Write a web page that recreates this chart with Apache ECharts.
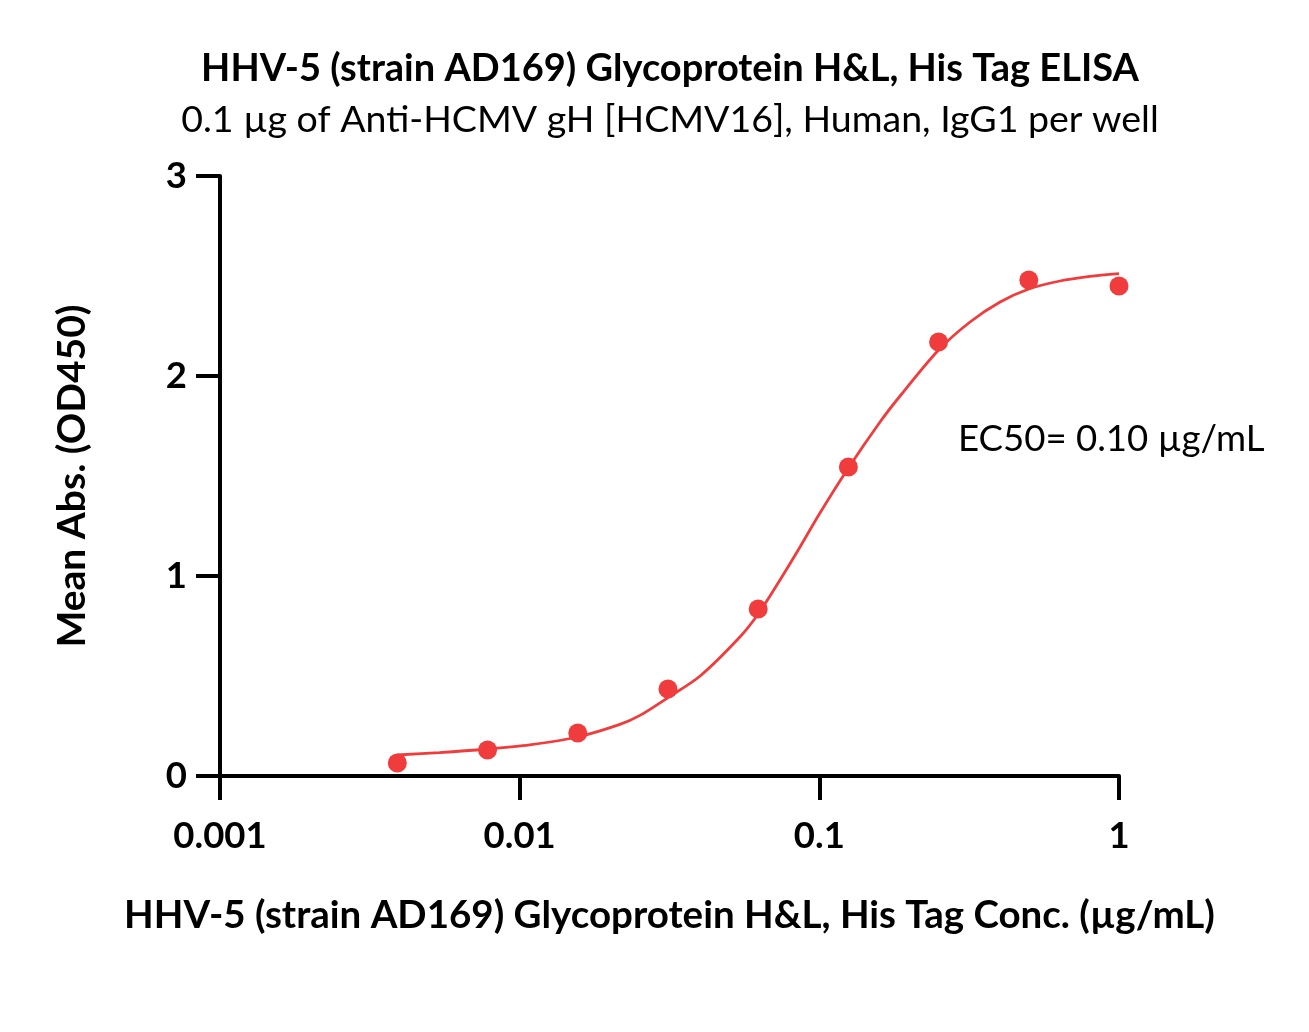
<!DOCTYPE html>
<html>
<head>
<meta charset="utf-8">
<script src="https://cdn.jsdelivr.net/npm/echarts@6/dist/echarts.min.js"></script>
<style>html,body{margin:0;padding:0;background:#fff}#c{width:1309px;height:1032px}</style>
</head>
<body>
<div id="c"></div>
<script>
// Measured points (concentration µg/mL, mean absorbance OD450)
const conc = [0.00390625, 0.0078125, 0.015625, 0.03125, 0.0625, 0.125, 0.25, 0.5, 1];
const absorbance = [0.065, 0.13, 0.215, 0.435, 0.835, 1.545, 2.17, 2.48, 2.45];
// Fitted curve
const curveX = [0.0039, 0.0054, 0.0078, 0.0108, 0.0156, 0.0216, 0.0252, 0.03125, 0.04, 0.0543, 0.0625, 0.0739, 0.0862, 0.1, 0.125, 0.1594, 0.1859, 0.25, 0.3183, 0.401, 0.5, 0.635, 0.8, 1];
const curveY = [0.105, 0.117, 0.135, 0.156, 0.195, 0.258, 0.303, 0.392, 0.5, 0.695, 0.81, 0.98, 1.145, 1.31, 1.54, 1.77, 1.9, 2.13, 2.27, 2.37, 2.435, 2.475, 2.498, 2.512];
const xTicks = ['0.001', '0.01', '0.1', '1'];
const yTicks = ['0', '1', '2', '3'];
const titleText = 'HHV-5 (strain AD169) Glycoprotein H&L, His Tag ELISA';
const subText = '0.1 \u00b5g of Anti-HCMV gH [HCMV16], Human, IgG1 per well';
const xName = 'HHV-5 (strain AD169) Glycoprotein H&L, His Tag Conc. (\u00b5g/mL)';
const yName = 'Mean Abs. (OD450)';
const ec50Text = 'EC50= 0.10 \u00b5g/mL';

const FONT = 'Lato';
const RED = '#F03C3C';
const chart = echarts.init(document.getElementById('c'), null, {renderer: 'canvas'});
chart.setOption({
  animation: false,
  backgroundColor: '#ffffff',
  grid: {left: 220, top: 176, right: 190, bottom: 256, containLabel: false},
  xAxis: {
    type: 'log', logBase: 10, min: 0.001, max: 1,
    name: xName, nameLocation: 'middle', nameGap: 120,
    nameTextStyle: {fontFamily: FONT, fontWeight: 'bold', fontSize: 38.5, color: '#000'},
    axisLine: {show: true, onZero: false, lineStyle: {color: '#000', width: 4}},
    axisTick: {show: true, inside: false, length: 24, lineStyle: {color: '#000', width: 4}},
    minorTick: {show: false},
    splitLine: {show: false},
    axisLabel: {margin: 42, fontFamily: FONT, fontWeight: 'bold', fontSize: 36.5, color: '#000',
      formatter: function (v) { const i = Math.round(Math.log10(v)) + 3; return xTicks[i] !== undefined ? xTicks[i] : ''; }}
  },
  yAxis: {
    type: 'value', min: 0, max: 3, interval: 1,
    name: yName, nameLocation: 'middle', nameGap: 128, nameRotate: 90,
    nameTextStyle: {fontFamily: FONT, fontWeight: 'bold', fontSize: 39, color: '#000'},
    axisLine: {show: true, lineStyle: {color: '#000', width: 4}},
    axisTick: {show: true, inside: false, length: 24, lineStyle: {color: '#000', width: 4}},
    splitLine: {show: false},
    axisLabel: {margin: 33, fontFamily: FONT, fontWeight: 'bold', fontSize: 36.5, color: '#000',
      formatter: function (v) { const i = Math.round(v); return yTicks[i] !== undefined ? yTicks[i] : ''; }}
  },
  series: [
    {
      type: 'line', data: curveX.map((x, i) => [x, curveY[i]]),
      smooth: 0.3, showSymbol: false, symbol: 'none',
      lineStyle: {color: RED, width: 2.8}, z: 2
    },
    {
      type: 'scatter', data: conc.map((x, i) => [x, absorbance[i]]),
      symbol: 'circle', symbolSize: 19, itemStyle: {color: RED, opacity: 1}, z: 3
    }
  ],
  graphic: [
    {type: 'text', x: 670, y: 69, style: {text: titleText, fontFamily: FONT, fontWeight: 'bold', fontSize: 38, fill: '#000', align: 'center', verticalAlign: 'middle'}},
    {type: 'text', x: 670, y: 120, style: {text: subText, fontFamily: FONT, fontSize: 37.5, fill: '#000', align: 'center', verticalAlign: 'middle'}},
    {type: 'text', left: 958, top: 421, style: {text: ec50Text, fontFamily: FONT, fontSize: 36.6, fill: '#000'}}
  ]
});
</script>
</body>
</html>
